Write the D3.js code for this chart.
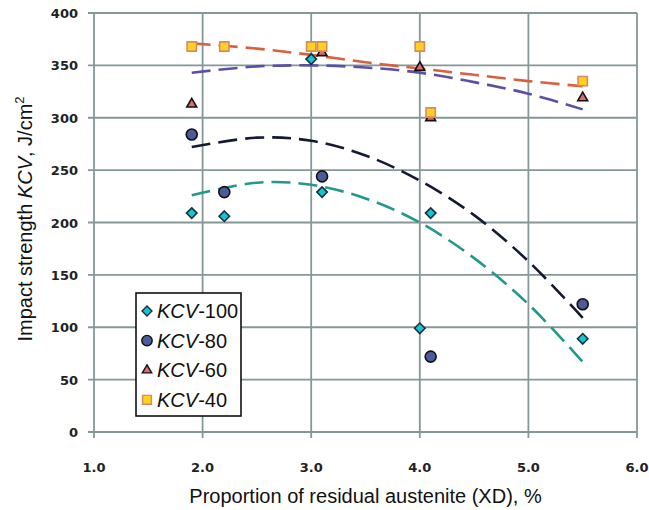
<!DOCTYPE html>
<html>
<head>
<meta charset="utf-8">
<script src="https://cdn.jsdelivr.net/npm/d3@7"></script>
<style>
  body { margin: 0; background: #fff; }
  svg { display: block; }
</style>
</head>
<body>
<div id="chart"></div>
<script>
// Data
const seriesNames = ["-100", "-80", "-60", "-40"];

const xKCV100 = [1.9, 2.2, 3.0, 3.1, 4.0, 4.1, 5.5];
const yKCV100 = [209, 206, 356, 229, 99, 209, 89];

const xKCV80 = [1.9, 2.2, 3.1, 4.1, 5.5];
const yKCV80 = [284, 229, 244, 72, 122];

const xKCV60 = [1.9, 3.1, 4.0, 4.1, 5.5];
const yKCV60 = [313, 362, 348, 300, 319];

const xKCV40 = [1.9, 2.2, 3.0, 3.1, 4.0, 4.1, 5.5];
const yKCV40 = [368, 368, 368, 368, 368, 305, 335];

// Trend lines (dashed), read at these x positions
const trendX = [1.9, 2.5, 3.0, 3.5, 4.0, 4.5, 5.0, 5.5];
const trend100 = [226, 238, 236, 223, 200, 166, 122, 67];
const trend80 = [272, 281, 278, 264, 240, 207, 163, 109];
const trend60 = [343, 349, 350, 348, 343, 334, 323, 308];
const trend40 = [371, 366, 360, 353, 347, 341, 335, 330];

const xTicks = [1, 2, 3, 4, 5, 6];
const yTicks = [0, 50, 100, 150, 200, 250, 300, 350, 400];

const width = 649, height = 510;
const margin = { left: 94, right: 12, top: 13, bottom: 78 };

const svg = d3.select("#chart").append("svg")
    .attr("width", width)
    .attr("height", height);

const x = d3.scaleLinear().domain([1, 6]).range([margin.left, width - margin.right]);
const y = d3.scaleLinear().domain([0, 400]).range([height - margin.bottom, margin.top]);

const gridColor = "#869797";

// gridlines
svg.append("g")
    .selectAll("line")
    .data(yTicks)
    .enter().append("line")
    .attr("x1", x(1) - 6).attr("x2", x(6))
    .attr("y1", d => y(d)).attr("y2", d => y(d))
    .attr("stroke", gridColor).attr("stroke-width", 1.8);

svg.append("g")
    .selectAll("line")
    .data(xTicks)
    .enter().append("line")
    .attr("x1", d => x(d)).attr("x2", d => x(d))
    .attr("y1", y(400)).attr("y2", y(0) + 6)
    .attr("stroke", gridColor).attr("stroke-width", 1.8);

// tick labels
svg.append("g")
    .selectAll("text")
    .data(yTicks)
    .enter().append("text")
    .attr("x", x(1) - 16)
    .attr("y", d => y(d) + 5)
    .attr("text-anchor", "end")
    .style("font", "bold 13px 'DejaVu Sans'")
    .attr("fill", "#222")
    .text(d => d);

svg.append("g")
    .selectAll("text")
    .data(xTicks)
    .enter().append("text")
    .attr("x", d => x(d))
    .attr("y", y(0) + 40)
    .attr("text-anchor", "middle")
    .style("font", "bold 13px 'DejaVu Sans'")
    .attr("fill", "#222")
    .text(d => d.toFixed(1));

// axis titles
svg.append("text")
    .attr("x", (x(1) + x(6)) / 2)
    .attr("y", 503)
    .attr("text-anchor", "middle")
    .style("font", "20px 'Liberation Sans'")
    .attr("fill", "#111")
    .text("Proportion of residual austenite (XD), %");

const yTitle = svg.append("text")
    .attr("transform", "translate(32," + 219 + ") rotate(-90)")
    .attr("text-anchor", "middle")
    .style("font", "20px 'Liberation Sans'")
    .attr("fill", "#111");
yTitle.append("tspan").text("Impact strength ");
yTitle.append("tspan").style("font-style", "italic").text("KCV");
yTitle.append("tspan").text(", J/cm");
yTitle.append("tspan").attr("dy", -8).style("font-size", "13px").text("2");

// trend lines
const trends = [
    { vals: trend100, color: "#22998a" },
    { vals: trend80, color: "#141a33" },
    { vals: trend60, color: "#5b50a6" },
    { vals: trend40, color: "#d8603e" }
];
const line = d3.line()
    .x(d => x(d[0]))
    .y(d => y(d[1]))
    .curve(d3.curveCatmullRom);

trends.forEach(t => {
    svg.append("path")
        .datum(trendX.map((v, i) => [v, t.vals[i]]))
        .attr("d", line)
        .attr("fill", "none")
        .attr("stroke", t.color)
        .attr("stroke-width", 2.6)
        .attr("stroke-dasharray", "19,8");
});

// markers
const styles = [
    { sym: d3.symbolDiamond2, size: 70, fill: "#19c3d6", stroke: "#14333a" },
    { sym: d3.symbolCircle, size: 95, fill: "#4c5b9c", stroke: "#111" },
    { sym: d3.symbolTriangle2, size: 70, fill: "#e06a6e", stroke: "#111" },
    { sym: d3.symbolSquare2, size: 110, fill: "#ffd21f", stroke: "#d98a5c" }
];
const seriesX = [xKCV100, xKCV80, xKCV60, xKCV40];
const seriesY = [yKCV100, yKCV80, yKCV60, yKCV40];

seriesX.forEach((xs, s) => {
    const st = styles[s];
    svg.append("g")
        .selectAll("path")
        .data(xs.map((v, i) => [v, seriesY[s][i]]))
        .enter().append("path")
        .attr("transform", d => `translate(${x(d[0])},${y(d[1])})`)
        .attr("d", d3.symbol().type(st.sym).size(st.size))
        .attr("fill", st.fill)
        .attr("stroke", st.stroke)
        .attr("stroke-width", 1.6);
});

// legend
const lg = svg.append("g").attr("transform", "translate(136,293)");
lg.append("rect")
    .attr("width", 105).attr("height", 123)
    .attr("fill", "#fff").attr("stroke", "#111").attr("stroke-width", 1.6);

seriesNames.forEach((name, i) => {
    const st = styles[i];
    const yy = 18 + i * 29.6;
    lg.append("path")
        .attr("transform", `translate(11,${yy})`)
        .attr("d", d3.symbol().type(st.sym).size(st.size * 0.9))
        .attr("fill", st.fill)
        .attr("stroke", st.stroke)
        .attr("stroke-width", 1.4);
    const t = lg.append("text")
        .attr("x", 21).attr("y", yy + 7)
        .style("font", "20px 'Liberation Sans'")
        .attr("fill", "#111");
    t.append("tspan").style("font-style", "italic").text("KCV");
    t.append("tspan").text(name);
});
</script>
</body>
</html>
